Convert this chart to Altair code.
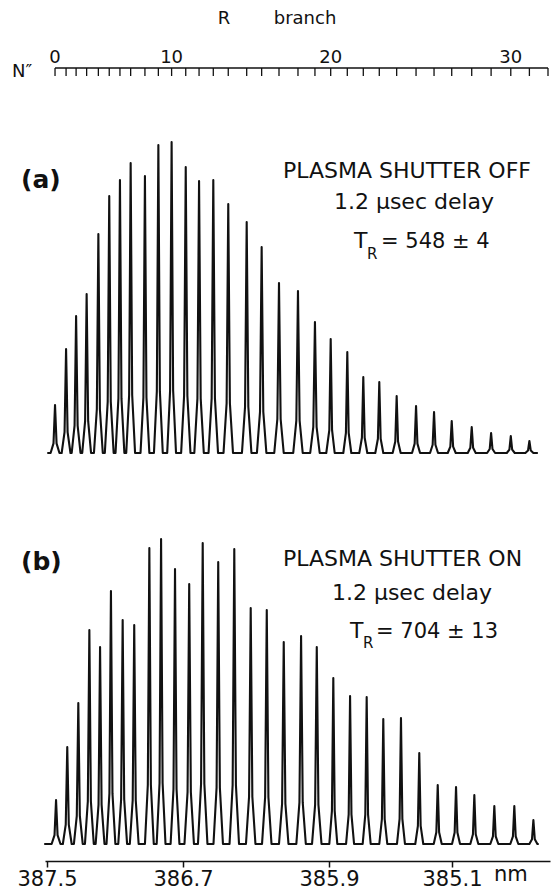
import altair as alt
import pandas as pd

# ---------------- data ----------------
# R-branch lines N'' = 0..31, line centres in nm and peak heights (arb. units)
n_lines = list(range(32))

wl_a = [387.453, 387.388, 387.329, 387.267, 387.198, 387.134, 387.071, 387.008,
        386.924, 386.845, 386.767, 386.685, 386.612, 386.534, 386.452, 386.351,
        386.269, 386.174, 386.070, 385.977, 385.889, 385.781, 385.677, 385.573,
        385.460, 385.334, 385.217, 385.102, 384.972, 384.846, 384.718, 384.597]
int_a = [48, 104, 137, 159, 219, 257, 273, 290, 277, 308, 311, 286, 272, 273, 249, 231,
         206, 170, 162, 131, 114, 101, 76, 71, 57, 47, 41, 32, 26, 20, 17, 12]

wl_b = [387.447, 387.381, 387.316, 387.251, 387.188, 387.124, 387.055, 386.987,
        386.898, 386.829, 386.747, 386.666, 386.592, 386.507, 386.419, 386.329,
        386.241, 386.148, 386.053, 385.967, 385.872, 385.763, 385.655, 385.547,
        385.432, 385.313, 385.193, 385.074, 384.955, 384.825, 384.695, 384.571]
int_b = [44, 97, 141, 214, 197, 253, 224, 219, 296, 305, 275, 260, 301, 282, 295, 236,
         234, 202, 208, 197, 166, 148, 147, 125, 126, 91, 59, 57, 49, 38, 38, 24]

# where each recorded trace starts / ends (nm)
ends_a = [387.494, 384.547]
ends_b = [387.512, 384.541]

# N'' ruler on top (one tick per N'' = 0..32)
ruler_n = list(range(33))
ruler_wl = [387.453, 387.388, 387.329, 387.267, 387.198, 387.134, 387.071, 387.008,
            386.924, 386.845, 386.767, 386.685, 386.612, 386.534, 386.452, 386.351,
            386.269, 386.174, 386.070, 385.977, 385.889, 385.781, 385.677, 385.573,
            385.460, 385.334, 385.217, 385.102, 384.972, 384.846, 384.718, 384.597,
            384.476]
ruler_label_n = [0, 10, 20, 30]

# wavelength axis
tick_wl = [387.5, 386.7, 385.9, 385.1]

# ---------------- style ----------------
FONT = "DejaVu Sans"
INK = "#111111"
HALF_BASE = 0.026      # half width of a line at the baseline (nm)
HALF_SHOULDER = 0.009  # half width at the shoulder (nm)
SHOULDER_FRAC = 0.2


def trace_frame(wls, ints, ends):
    xs, ys = [ends[0]], [0.0]
    for w, h in zip(wls, ints):
        xs += [w + HALF_BASE, w + HALF_SHOULDER, w, w - HALF_SHOULDER, w - HALF_BASE]
        ys += [0.0, SHOULDER_FRAC * h, h, SHOULDER_FRAC * h, 0.0]
    xs.append(ends[1])
    ys.append(0.0)
    return pd.DataFrame({"wl": xs, "intensity": ys, "order": list(range(len(xs)))})


df_a = trace_frame(wl_a, int_a, ends_a)
df_b = trace_frame(wl_b, int_b, ends_b)
df_ruler = pd.DataFrame({"n": ruler_n, "wl": ruler_wl})
df_ruler_line = pd.DataFrame({"x0": [ruler_wl[0]], "x1": [ruler_wl[-1]]})
df_ruler_lab = pd.DataFrame({"n": ruler_label_n,
                             "wl": [ruler_wl[n] for n in ruler_label_n],
                             "lab": [str(n) for n in ruler_label_n]})
one = pd.DataFrame({"_": [0]})

x_scale = alt.Scale(domain=[387.512, 386.7, 385.9, 384.463],
                    range=[45, 183, 329, 550], nice=False, zero=False)
x_axis = alt.Axis(values=tick_wl, title=None, grid=False, orient="bottom",
                  domainColor=INK, domainWidth=1.5, tickColor=INK, tickWidth=1.5,
                  tickSize=6, labelFont=FONT, labelFontSize=21, labelColor=INK,
                  labelPadding=1, labelExpr="format(datum.value, '.1f')",
                  labelAlign="center", labelBound=False,
                  labelOverlap=False, labelFlush=False)
X = alt.X("wl:Q", scale=x_scale, axis=x_axis)

trace_a = alt.Chart(df_a).mark_line(color=INK, strokeWidth=2.1, strokeJoin="round",
                                    strokeCap="round").encode(
    x=X,
    y=alt.Y("intensity:Q", scale=alt.Scale(domain=[0, 311], range=[453, 142],
                                           nice=False, zero=False), axis=None),
    order="order:Q",
)
trace_b = alt.Chart(df_b).mark_line(color=INK, strokeWidth=2.1, strokeJoin="round",
                                    strokeCap="round").encode(
    x=X,
    y=alt.Y("intensity:Q", scale=alt.Scale(domain=[0, 305], range=[844, 539],
                                           nice=False, zero=False), axis=None),
    order="order:Q",
)

ruler_ticks = alt.Chart(df_ruler).mark_rule(color=INK, strokeWidth=1.3).encode(
    x=X, y=alt.value(68), y2=alt.value(76),
)
ruler_line = alt.Chart(df_ruler_line).mark_rule(color=INK, strokeWidth=1.5).encode(
    x=alt.X("x0:Q", scale=x_scale, axis=x_axis), x2="x1:Q", y=alt.value(68),
)
ruler_text = alt.Chart(df_ruler_lab).mark_text(
    font=FONT, fontSize=18, color=INK, baseline="alphabetic", align="center").encode(
    x=X, y=alt.value(63), text="lab:N",
)


def label(text, x, y, size=22, weight="normal", align="left"):
    return alt.Chart(one).mark_text(
        text=text, font=FONT, fontSize=size, fontWeight=weight, color=INK,
        align=align, baseline="alphabetic").encode(x=alt.value(x), y=alt.value(y))


texts = [
    label("R", 224, 24, 18, align="center"),
    label("branch", 305, 24, 18, align="center"),
    label("N\u2033", 12, 77, 18),
    label("(a)", 21, 188, 25, "bold"),
    label("PLASMA SHUTTER OFF", 283, 178, 22),
    label("1.2 \u03bcsec delay", 414, 209, 22, align="center"),
    label("T", 354, 248, 22),
    label("R", 367, 259, 15),
    label("= 548 \u00b1 4", 381, 248, 21),
    label("(b)", 21, 570, 25, "bold"),
    label("PLASMA SHUTTER ON", 283, 566, 22),
    label("1.2 \u03bcsec delay", 412, 600, 22, align="center"),
    label("T", 350, 638, 22),
    label("R", 363, 648, 15),
    label("= 704 \u00b1 13", 376, 638, 21),
    label("nm", 494, 881, 21),
]

chart = alt.layer(trace_a, trace_b, ruler_line, ruler_ticks, ruler_text, *texts).resolve_scale(
    y="independent"
).properties(
    width=555, height=861,
    padding={"left": 0, "right": 0, "top": 0, "bottom": 30},
    autosize=alt.AutoSizeParams(type="none"),
    background="white",
).configure_view(stroke=None)

chart.save("out.html", embed_options={"renderer": "svg", "actions": False})
